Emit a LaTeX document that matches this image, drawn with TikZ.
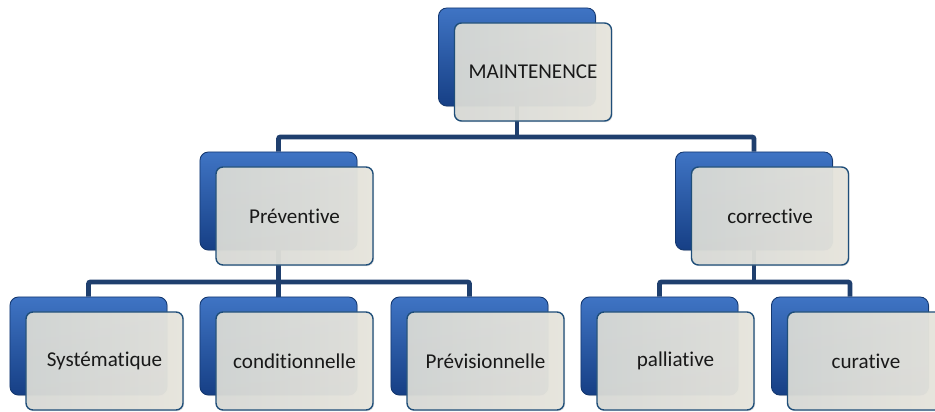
\documentclass[tikz,border=0pt]{standalone}
\usepackage{fontspec}
\setmainfont{Carlito}[Ligatures={NoCommon}]
\usetikzlibrary{shadows, backgrounds}
\definecolor{backtop}{HTML}{3F74C4}
\definecolor{backmid}{HTML}{2254A2}
\definecolor{backbot}{HTML}{163F85}
\definecolor{backline}{HTML}{143870}
\definecolor{frontl}{HTML}{D8DAD6}
\definecolor{frontr}{HTML}{E8E6DE}
\definecolor{frontline}{HTML}{1F4E79}
\definecolor{linkcol}{HTML}{1F3F6E}

\begin{document}
\begin{tikzpicture}[x=0.025cm, y=-0.025cm,
    back/.style = {rectangle, draw=backline, line width=0.6pt, top color=backtop, middle color=backmid, bottom color=backbot, rounded corners=6pt, minimum width=3.925cm, minimum height=2.45cm, inner sep=0pt, drop shadow={shadow xshift=0.8pt, shadow yshift=-0.8pt, opacity=0.25}},
    front/.style = {rectangle, draw=frontline, line width=1pt, left color=frontl, right color=frontr, fill opacity=0.95, text opacity=1, rounded corners=5pt, minimum width=3.925cm, minimum height=2.45cm, inner sep=0pt, font=\fontsize{15}{17}\selectfont, text=black!90, drop shadow={shadow xshift=0.8pt, shadow yshift=-0.8pt, opacity=0.25}},
    link/.style = {draw=linkcol, line width=3.5pt, rounded corners=1.5pt}
]
\useasboundingbox (0,0) rectangle (935,412);

% Row 1: root
\node (maint_bk) [back] at (517, 57) {};
\node (maint) [front, xshift=4mm, yshift=-3.75mm] at (maint_bk.center) {MAINTENENCE};

% Row 2: the two families
\node (prev_bk) [back] at (278.5, 201) {};
\node (prev) [front, xshift=4mm, yshift=-3.75mm] at (prev_bk.center) {Préventive};
\node (corr_bk) [back] at (754, 201) {};
\node (corr) [front, xshift=4mm, yshift=-3.75mm] at (corr_bk.center) {corrective};

% Row 3: leaves
\node (syst_bk) [back] at (88.5, 346) {};
\node (syst) [front, xshift=4mm, yshift=-3.75mm] at (syst_bk.center) {Systématique};
\node (cond_bk) [back] at (278.5, 346) {};
\node (cond) [front, xshift=4mm, yshift=-3.75mm] at (cond_bk.center) {conditionnelle};
\node (previs_bk) [back] at (469.5, 346) {};
\node (previs) [front, xshift=4mm, yshift=-3.75mm] at (previs_bk.center) {Prévisionnelle};
\node (pall_bk) [back] at (659.5, 346) {};
\node (pall) [front, xshift=4mm, yshift=-3.75mm] at (pall_bk.center) {palliative};
\node (cura_bk) [back] at (850, 346) {};
\node (cura) [front, xshift=4mm, yshift=-3.75mm] at (cura_bk.center) {curative};

% Connectors (behind the boxes)
\begin{scope}[on background layer]
\coordinate (bus_top) at (517, 137);
\coordinate (bus_prev) at (278.5, 282);
\coordinate (bus_corr) at (754, 282);

\draw [link] (maint_bk.center) -- (bus_top);
\draw [link] (prev_bk.north) |- (bus_top) -| (corr_bk.north);

\draw [link] (prev_bk.center) -- (cond_bk.north);
\draw [link] (syst_bk.north) |- (bus_prev) -| (previs_bk.north);

\draw [link] (corr_bk.center) -- (bus_corr);
\draw [link] (pall_bk.north) |- (bus_corr) -| (cura_bk.north);
\end{scope}

\end{tikzpicture}
\end{document}
